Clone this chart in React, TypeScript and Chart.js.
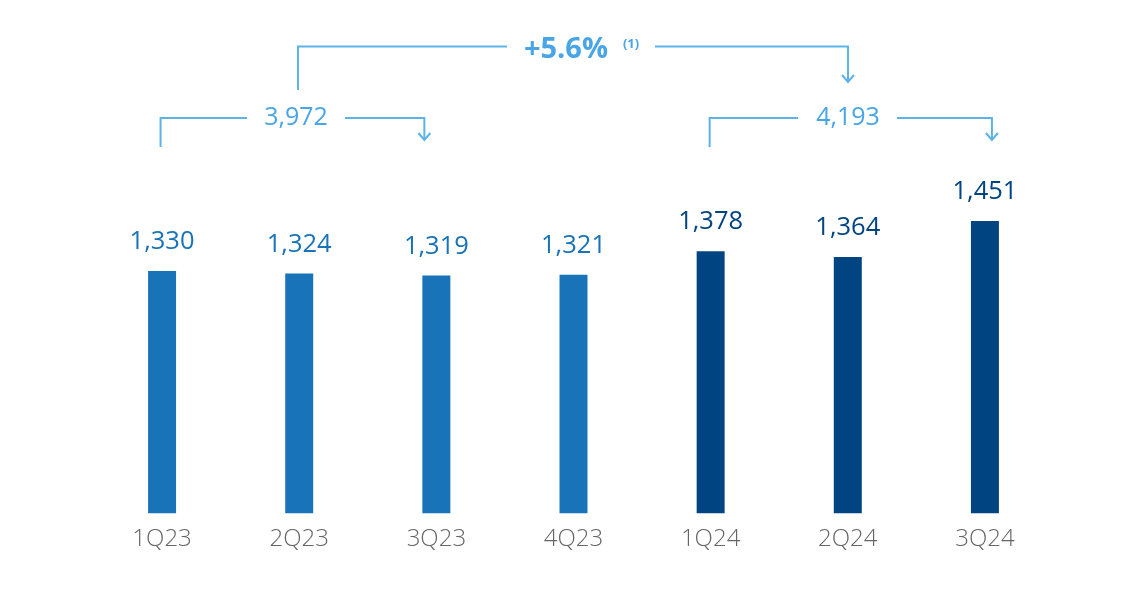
import React, { useEffect, useRef } from "react";
import { Chart, registerables } from "chart.js";

Chart.register(...registerables);

const categories = ["1Q23", "2Q23", "3Q23", "4Q23", "1Q24", "2Q24", "3Q24"];
const values = [1330, 1324, 1319, 1321, 1378, 1364, 1451];
const valueLabels = ["1,330", "1,324", "1,319", "1,321", "1,378", "1,364", "1,451"];
const barColors = ["#1973B8", "#1973B8", "#1973B8", "#1973B8", "#004481", "#004481", "#004481"];
const sum2023Label = "3,972";
const sum2024Label = "4,193";
const growthLabel = "+5.6%";
const growthNote = "(1)";

const LINE = "#5BB3E8";
const ANN_TEXT = "#49A5E6";
const FONT = "'Open Sans', sans-serif";

const annotationPlugin = {
  id: "annotations",
  afterDatasetsDraw(chart: any) {
    const ctx = chart.ctx;
    const meta = chart.getDatasetMeta(0);
    ctx.save();
    // value labels
    ctx.textAlign = "center";
    ctx.textBaseline = "middle";
    ctx.font = `500 25.5px ${FONT}`;
    meta.data.forEach((bar: any, i: number) => {
      ctx.fillStyle = barColors[i];
      ctx.fillText(valueLabels[i], bar.x, bar.y - 29);
    });

    const xs = meta.data.map((b: any) => b.x);
    ctx.strokeStyle = LINE;
    ctx.lineWidth = 2;
    ctx.lineJoin = "miter";

    const arrowHead = (x: number, y: number) => {
      ctx.beginPath();
      ctx.moveTo(x - 6, y - 7);
      ctx.lineTo(x, y);
      ctx.lineTo(x + 6, y - 7);
      ctx.stroke();
    };

    const bracket = (
      x1: number,
      yStart: number,
      yLine: number,
      gapL: number,
      gapR: number,
      x2: number,
      yEnd: number
    ) => {
      ctx.beginPath();
      ctx.moveTo(x1, yStart);
      ctx.lineTo(x1, yLine);
      ctx.lineTo(gapL, yLine);
      ctx.stroke();
      ctx.beginPath();
      ctx.moveTo(gapR, yLine);
      ctx.lineTo(x2, yLine);
      ctx.lineTo(x2, yEnd);
      ctx.stroke();
      arrowHead(x2, yEnd);
    };

    // 2023 bracket
    bracket(xs[0] - 1.5, 147, 118, 247, 345, xs[2] - 12, 140);
    // 2024 bracket
    bracket(xs[4] - 1, 147, 118, 798, 897, xs[6] + 7, 140);
    // growth bracket
    bracket(298, 90, 46.5, 507, 655, 848, 82);

    ctx.fillStyle = ANN_TEXT;
    ctx.font = `400 25px ${FONT}`;
    ctx.textAlign = "center";
    ctx.fillText(sum2023Label, 296, 118);
    ctx.fillText(sum2024Label, 848, 118);

    ctx.font = `700 29px ${FONT}`;
    ctx.fillText(growthLabel, 566, 50);
    ctx.font = `700 13px ${FONT}`;
    ctx.fillText(growthNote, 631, 44);
    ctx.restore();
  },
};

export default function App() {
  const ref = useRef<HTMLCanvasElement>(null);
  useEffect(() => {
    const chart = new Chart(ref.current!, {
      type: "bar",
      data: {
        labels: categories,
        datasets: [
          {
            data: values,
            backgroundColor: barColors,
            barPercentage: 0.204,
            categoryPercentage: 1,
          },
        ],
      },
      options: {
        animation: false,
        responsive: false,
        maintainAspectRatio: false,
        layout: { padding: { left: 93.5, right: 92.5, top: 0, bottom: 28 } },
        plugins: { legend: { display: false }, tooltip: { enabled: false } },
        scales: {
          x: {
            grid: { display: false, drawTicks: false },
            border: { display: false },
            ticks: {
              color: "#666666",
              font: { family: "'Open Sans', sans-serif", size: 24, weight: 300 },
              padding: 12,
            },
          },
          y: {
            display: false,
            min: 744,
            max: 1986,
          },
        },
      },
      plugins: [annotationPlugin],
    });
    return () => chart.destroy();
  }, []);
  return (
    <div style={{ position: "fixed", left: 0, top: 0, width: 1146, height: 594, background: "#fff" }}>
      <canvas ref={ref} width={1146} height={594} style={{ width: 1146, height: 594 }} />
    </div>
  );
}
